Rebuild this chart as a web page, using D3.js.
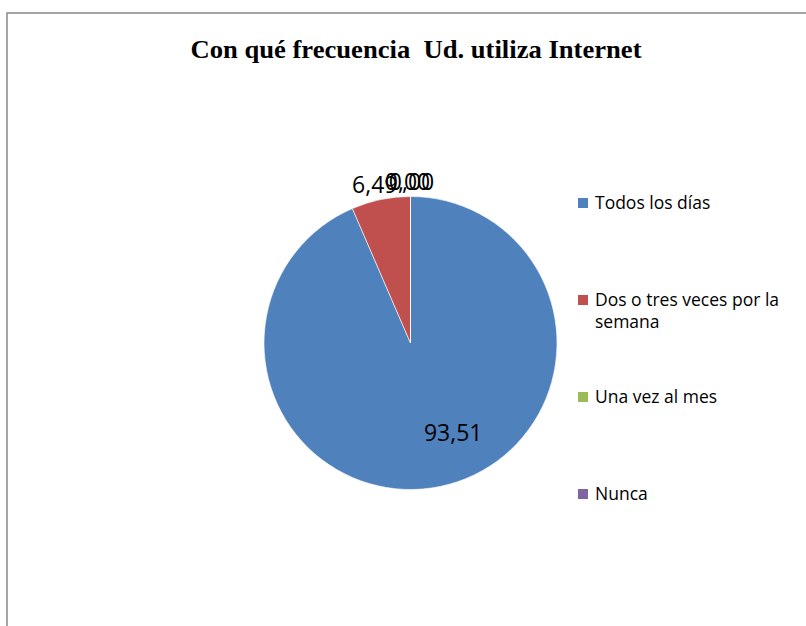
<!DOCTYPE html>
<html>
<head>
<meta charset="utf-8">
<script src="https://cdn.jsdelivr.net/npm/d3@7"></script>
<style>
  body { margin: 0; background: #fff; }
</style>
</head>
<body>
<div class="chart"></div>
<script>
// Chart data
var categories = ["Todos los días", "Dos o tres veces por la semana", "Una vez al mes", "Nunca"];
var values = [93.51, 6.49, 0.00, 0.00];
var legend_lines = [["Todos los días"], ["Dos o tres veces por la", "semana"], ["Una vez al mes"], ["Nunca"]];
var colors = ["#4F81BD", "#C0504D", "#9BBB59", "#8064A2"];
var title_text = "Con qué frecuencia\u00a0 Ud. utiliza Internet";

var W = 806, H = 626;
var PIE_CX = 410.5, PIE_CY = 343, PIE_R = 146.5;
var LEG_X = 578, LEG_Y0 = 203, LEG_STEP = 97;

var svg = d3.select(".chart").append("svg")
        .attr("width", W)
        .attr("height", H);

// Chart frame (runs off the right and bottom edges)
svg.append("rect")
        .attr("x", 7).attr("y", 13)
        .attr("width", W + 20).attr("height", H + 20)
        .attr("fill", "#fff")
        .attr("stroke", "#888")
        .attr("stroke-width", 1.5);

// Title
svg.append("text")
        .attr("x", 416).attr("y", 58)
        .attr("text-anchor", "middle")
        .attr("font-family", "'Liberation Serif', 'Times New Roman', serif")
        .attr("font-weight", "bold")
        .attr("font-size", 24.5)
        .attr("textLength", 451)
        .attr("lengthAdjust", "spacingAndGlyphs")
        .text(title_text);

var pie = d3.pie().sort(null).value(function (d) { return d; });
var arcs = pie(values);
var arc = d3.arc().innerRadius(0).outerRadius(PIE_R);

var g = svg.append("g").attr("transform", "translate(" + PIE_CX + "," + PIE_CY + ")");

g.selectAll("path.slice").data(arcs).enter().append("path")
        .attr("class", "slice")
        .attr("d", arc)
        .attr("fill", function (d, i) { return colors[i]; })
        .attr("stroke", "#fff")
        .attr("stroke-width", 0.6);

var fmt = function (v) { return v.toFixed(2).replace(".", ","); };
var LABEL_FONT = "'Open Sans', 'Liberation Sans', sans-serif";

// Data labels: big slices inside, small ones outside the edge
var zero_count = 0;
arcs.forEach(function (d, i) {
    var mid = (d.startAngle + d.endAngle) / 2;
    var frac = d.value / d3.sum(values);
    var x, y;
    if (frac > 0.5) {
        var c = d3.arc().innerRadius(PIE_R * 0.45).outerRadius(PIE_R * 0.95).centroid(d);
        x = c[0] + 22;
        y = c[1] - 10;
    } else {
        x = Math.sin(mid) * (PIE_R + 30);
        y = -Math.cos(mid) * (PIE_R + 15);
        // zero slices stack on top of each other, nudged slightly
        if (d.value === 0) {
            x += -3 + zero_count * 4;
            zero_count++;
        }
    }
    g.append("text")
            .attr("x", x).attr("y", y)
            .attr("dy", "0.35em")
            .attr("text-anchor", "middle")
            .attr("font-family", LABEL_FONT)
            .attr("font-size", 23)
            .attr("fill", "#000")
            .text(fmt(d.value));
});

// Legend
var leg = svg.append("g");
categories.forEach(function (c, i) {
    var yy = LEG_Y0 + i * LEG_STEP;
    leg.append("rect")
            .attr("x", LEG_X).attr("y", yy - 5)
            .attr("width", 10).attr("height", 10)
            .attr("fill", colors[i]);
    legend_lines[i].forEach(function (line, k) {
        leg.append("text")
                .attr("x", LEG_X + 17).attr("y", yy + k * 22)
                .attr("dy", "0.35em")
                .attr("font-family", LABEL_FONT)
                .attr("font-size", 17.5)
                .attr("fill", "#000")
                .text(line);
    });
});
</script>
</body>
</html>
